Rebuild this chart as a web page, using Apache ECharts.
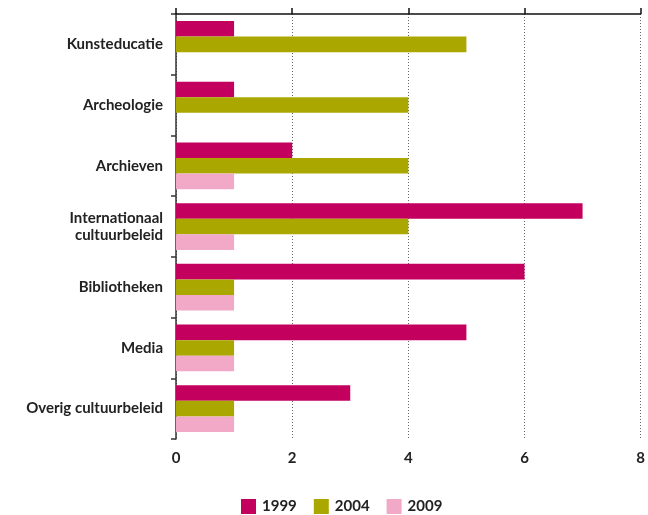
<!DOCTYPE html>
<html>
<head>
<meta charset="utf-8">
<script src="https://cdn.jsdelivr.net/npm/echarts@6/dist/echarts.min.js"></script>
<style>html,body{margin:0;padding:0;background:#fff}#c{width:648px;height:515px}</style>
</head>
<body>
<div id="c"></div>
<script>
const categories = ['Kunsteducatie', 'Archeologie', 'Archieven', 'Internationaal\ncultuurbeleid', 'Bibliotheken', 'Media', 'Overig cultuurbeleid'];
const seriesNames = ['1999', '2004', '2009'];
const values1999 = [1, 1, 2, 7, 6, 5, 3];
const values2004 = [5, 4, 4, 4, 1, 1, 1];
const values2009 = [null, null, 1, 1, 1, 1, 1];
const xTicks = [0, 2, 4, 6, 8];

const colors = ['#c4005f', '#aaa800', '#f2a9c7'];
const font = 'Lato, "Open Sans", sans-serif';
const chart = echarts.init(document.getElementById('c'), null, {renderer: 'canvas'});
const allValues = [values1999, values2004, values2009];
chart.setOption({
  animation: false,
  color: colors,
  grid: {left: 176, right: 7, top: 14, bottom: 76, containLabel: false},
  legend: {
    top: 494, left: 236,
    itemWidth: 15, itemHeight: 15, itemGap: 17,
    icon: 'rect',
    textStyle: {fontFamily: font, fontSize: 15, fontWeight: 'bold', color: '#222', padding: [0, 0, 0, 1]},
    data: seriesNames
  },
  xAxis: [{
    type: 'value', position: 'top', min: xTicks[0], max: xTicks[xTicks.length - 1], interval: 2,
    axisLine: {show: true, lineStyle: {color: '#111', width: 1.5}},
    axisTick: {show: true, length: 6, lineStyle: {color: '#111', width: 1.5}},
    axisLabel: {show: false},
    splitLine: {show: true, lineStyle: {color: '#666', type: [1, 2], width: 1}}
  }, {
    type: 'value', position: 'bottom', min: xTicks[0], max: xTicks[xTicks.length - 1], interval: 2,
    axisLine: {show: false}, axisTick: {show: false}, splitLine: {show: false},
    axisLabel: {show: true, margin: 12, fontFamily: font, fontSize: 15, fontWeight: 'bold', color: '#222'}
  }],
  yAxis: {
    type: 'category', data: categories, inverse: true,
    axisLine: {show: true, lineStyle: {color: '#333', width: 1.5}},
    axisTick: {show: true, length: 5, lineStyle: {color: '#333', width: 1.5}},
    axisLabel: {margin: 13, fontFamily: font, fontSize: 15, fontWeight: 'bold', color: '#222', lineHeight: 17, align: 'right'},
    splitLine: {show: false}
  },
  series: seriesNames.map((n, i) => ({
    name: n, type: 'bar', xAxisIndex: 0, data: allValues[i],
    barGap: '0%', barCategoryGap: '23%'
  }))
});
</script>
</body>
</html>
